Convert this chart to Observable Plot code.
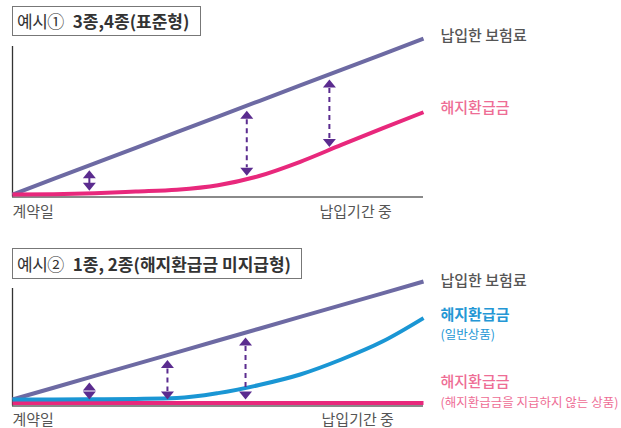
<!DOCTYPE html>
<html><head><meta charset="utf-8">
<script src="https://cdn.jsdelivr.net/npm/d3@7"></script>
<script src="https://cdn.jsdelivr.net/npm/@observablehq/plot@0.6"></script>
<style>
body{margin:0;background:#fff;font-family:"Noto Sans CJK KR","Noto Sans",sans-serif;}
#wrap{position:relative;width:621px;height:428px;overflow:hidden;}
.panel{position:absolute;left:0;}
.tbox{position:absolute;left:12px;border:1px solid #777;box-sizing:border-box;font-size:17px;color:#333;padding-left:4px;white-space:nowrap;}
.tbox .lt{font-weight:400;letter-spacing:-0.5px;margin-right:9px;}
.tbox b{font-weight:700;letter-spacing:0px;}
</style>
</head><body>
<div id="wrap">
  <div class="tbox" style="top:6px;width:189px;height:30px;line-height:28px;"><span class="lt">예시①</span><b>3종,4종(표준형)</b></div>
  <div class="tbox" style="top:248px;width:290px;height:31px;line-height:29px;"><span class="lt">예시②</span><b>1종, 2종(해지환급금 미지급형)</b></div>
  <div id="p1" class="panel" style="top:0px;"></div>
  <div id="p2" class="panel" style="top:228px;"></div>
</div>
<script>
// ---- data ----
const period = [0, 10, 20, 30, 40, 50, 60, 70, 80, 90, 100];
// 예시① 3종,4종(표준형)
const premium1 = [0, 10, 20, 30, 40, 50, 60, 70, 80, 90, 100];
const refund1 = [0, 0.2, 0.8, 1.9, 3.1, 6.0, 11.9, 21.0, 31.8, 42.4, 52.8];
const arrowAt1 = [18.7, 57, 77.1];
const arrowTop1 = [18.7, 57, 77.1];
const arrowBottom1 = [0.5, 10.1, 28.6];
// 예시② 1종, 2종(해지환급금 미지급형)
const premium2 = [0, 10, 20, 30, 40, 50, 60, 70, 80, 90, 100];
const refundGeneral2 = [0, 0, 0.2, 0.5, 1.2, 5.4, 12.3, 21.2, 33.9, 49.1, 69];
const refundNone2 = [0, 0, 0, 0, 0, 0, 0, 0, 0, 0, 0];
const arrowAt2 = [18.7, 37.7, 56.7];
const arrowTop2 = [18.7, 37.7, 56.7];
const arrowBottom2 = [0, 0, 0];
// tick labels
const xTickLabels = ["계약일", "납입기간 중"];
const xTickValues1 = [0, 83.5];
const xTickValues2 = [0, 84];
// line labels
const labels1 = ["납입한 보험료", "해지환급금"];
const labels2 = ["납입한 보험료", "해지환급금", "(일반상품)", "해지환급금", "(해지환급금을 지급하지 않는 상품)"];

// ---- styles ----
const C = {
  premium: "#6d6aa3", refundPink: "#e8287c", refundBlue: "#1a96d4",
  arrow: "#5b2c8f", text: "#555", labelPink: "#ee6d95", labelBlue: "#2497d5",
  axisL: "#333", axisB: "#8a8a8a"
};
const FONT = '"Noto Sans CJK KR","Noto Sans",sans-serif';

const headUp = {draw(ctx) { ctx.moveTo(0, 0); ctx.lineTo(6.5, 8); ctx.lineTo(-6.5, 8); ctx.closePath(); }};
const headDown = {draw(ctx) { ctx.moveTo(0, 0); ctx.lineTo(6.5, -8); ctx.lineTo(-6.5, -8); ctx.closePath(); }};

const rows1 = period.map((p, i) => ({period: p, premium: premium1[i], refund: refund1[i]}));
const rows2 = period.map((p, i) => ({period: p, premium: premium2[i], general: refundGeneral2[i], none: refundNone2[i]}));
const arr1 = arrowAt1.map((x, i) => ({x, top: arrowTop1[i], bottom: arrowBottom1[i]}));
const arr2 = arrowAt2.map((x, i) => ({x, top: arrowTop2[i], bottom: arrowBottom2[i]}));

function arrowMarks(data, solidFirst, topGap, bottomGap) {
  const dash = solidFirst ? data.slice(1) : data;
  const marks = [];
  if (solidFirst) marks.push(Plot.ruleX(data.slice(0, 1), {x: "x", y1: "top", y2: "bottom", stroke: C.arrow, strokeWidth: 2, insetTop: topGap + 6, insetBottom: bottomGap + 6}));
  marks.push(Plot.ruleX(dash, {x: "x", y1: "top", y2: "bottom", stroke: C.arrow, strokeWidth: 2, strokeDasharray: "5,4", insetTop: topGap + 9, insetBottom: bottomGap + 8}));
  marks.push(Plot.dot(data, {x: "x", y: "top", dy: topGap, symbol: headUp, fill: C.arrow, stroke: "none"}));
  marks.push(Plot.dot(data, {x: "x", y: "bottom", dy: -bottomGap, symbol: headDown, fill: C.arrow, stroke: "none"}));
  return marks;
}

function tickMarks(values, padding) {
  return [
    Plot.axisX({ticks: values.slice(0, 1), tickFormat: () => xTickLabels[0], tickSize: 0, tickPadding: padding, textAnchor: "start", fontSize: 15, color: C.text, label: null}),
    Plot.axisX({ticks: values.slice(1), tickFormat: () => xTickLabels[1], tickSize: 0, tickPadding: padding, textAnchor: "middle", fontSize: 15, color: C.text, label: null})
  ];
}

// ---- panel 1 ----
const yDom1 = [-1.6, 95];
const p1 = Plot.plot({
  width: 621, height: 228,
  marginLeft: 12, marginRight: 198, marginTop: 46, marginBottom: 31.5,
  style: {fontFamily: FONT, background: "transparent", overflow: "visible"},
  x: {domain: [0, 100], axis: null},
  y: {domain: yDom1, axis: null},
  marks: [
    Plot.ruleY([yDom1[0]], {stroke: C.axisB, strokeWidth: 2}),
    Plot.ruleX([0], {stroke: C.axisL, strokeWidth: 1.3}),
    Plot.line(rows1, {x: "period", y: "premium", stroke: C.premium, strokeWidth: 4, strokeLinecap: "butt"}),
    Plot.line(rows1, {x: "period", y: "refund", stroke: C.refundPink, strokeWidth: 4, strokeLinecap: "butt", curve: "monotone-x"}),
    ...arrowMarks(arr1, true, 5, 3),
    Plot.text([labels1[0]], {x: () => 100, y: () => premium1.at(-1), text: d => d, dx: 17, dy: -3, textAnchor: "start", fill: C.text, fontSize: 15, fontWeight: 500}),
    Plot.text([labels1[1]], {x: () => 100, y: () => refund1.at(-1), text: d => d, dx: 17, dy: -4, textAnchor: "start", fill: C.labelPink, fontSize: 15, fontWeight: 500}),
    ...tickMarks(xTickValues1, 9)
  ]
});
document.getElementById("p1").append(p1);

// ---- panel 2 ----
const yDom2 = [-5.5, 94.07];
const p2 = Plot.plot({
  width: 621, height: 200,
  marginLeft: 12, marginRight: 198, marginTop: 60, marginBottom: 22.5,
  style: {fontFamily: FONT, background: "transparent", overflow: "visible"},
  x: {domain: [0, 100], axis: null},
  y: {domain: yDom2, axis: null},
  marks: [
    Plot.ruleY([yDom2[0]], {stroke: C.axisB, strokeWidth: 2}),
    Plot.ruleX([0], {stroke: C.axisL, strokeWidth: 1.3}),
    Plot.line(rows2, {x: "period", y: "none", dy: 3.5, stroke: C.refundPink, strokeWidth: 4, strokeLinecap: "butt"}),
    Plot.line(rows2, {x: "period", y: "premium", stroke: C.premium, strokeWidth: 4, strokeLinecap: "butt"}),
    Plot.line(rows2, {x: "period", y: "general", stroke: C.refundBlue, strokeWidth: 4, strokeLinecap: "butt", curve: "monotone-x"}),
    ...arrowMarks(arr2, false, 5, 0),
    Plot.text([labels2[0]], {x: () => 100, y: () => premium2.at(-1), text: d => d, dx: 17, dy: 0, textAnchor: "start", fill: C.text, fontSize: 15, fontWeight: 500}),
    Plot.text([labels2[1]], {x: () => 100, y: () => refundGeneral2.at(-1), text: d => d, dx: 17, dy: -3, textAnchor: "start", fill: C.labelBlue, fontSize: 15, fontWeight: 700}),
    Plot.text([labels2[2]], {x: () => 100, y: () => refundGeneral2.at(-1), text: d => d, dx: 17, dy: 17, textAnchor: "start", fill: C.labelBlue, fontSize: 12.5}),
    Plot.text([labels2[3]], {x: () => 100, y: () => refundNone2.at(-1), text: d => d, dx: 17, dy: -17, textAnchor: "start", fill: C.labelPink, fontSize: 15, fontWeight: 500}),
    Plot.text([labels2[4]], {x: () => 100, y: () => refundNone2.at(-1), text: d => d, dx: 17, dy: 3, textAnchor: "start", fill: C.labelPink, fontSize: 12.5}),
    ...tickMarks(xTickValues2, 8)
  ]
});
document.getElementById("p2").append(p2);
</script>
</body></html>
